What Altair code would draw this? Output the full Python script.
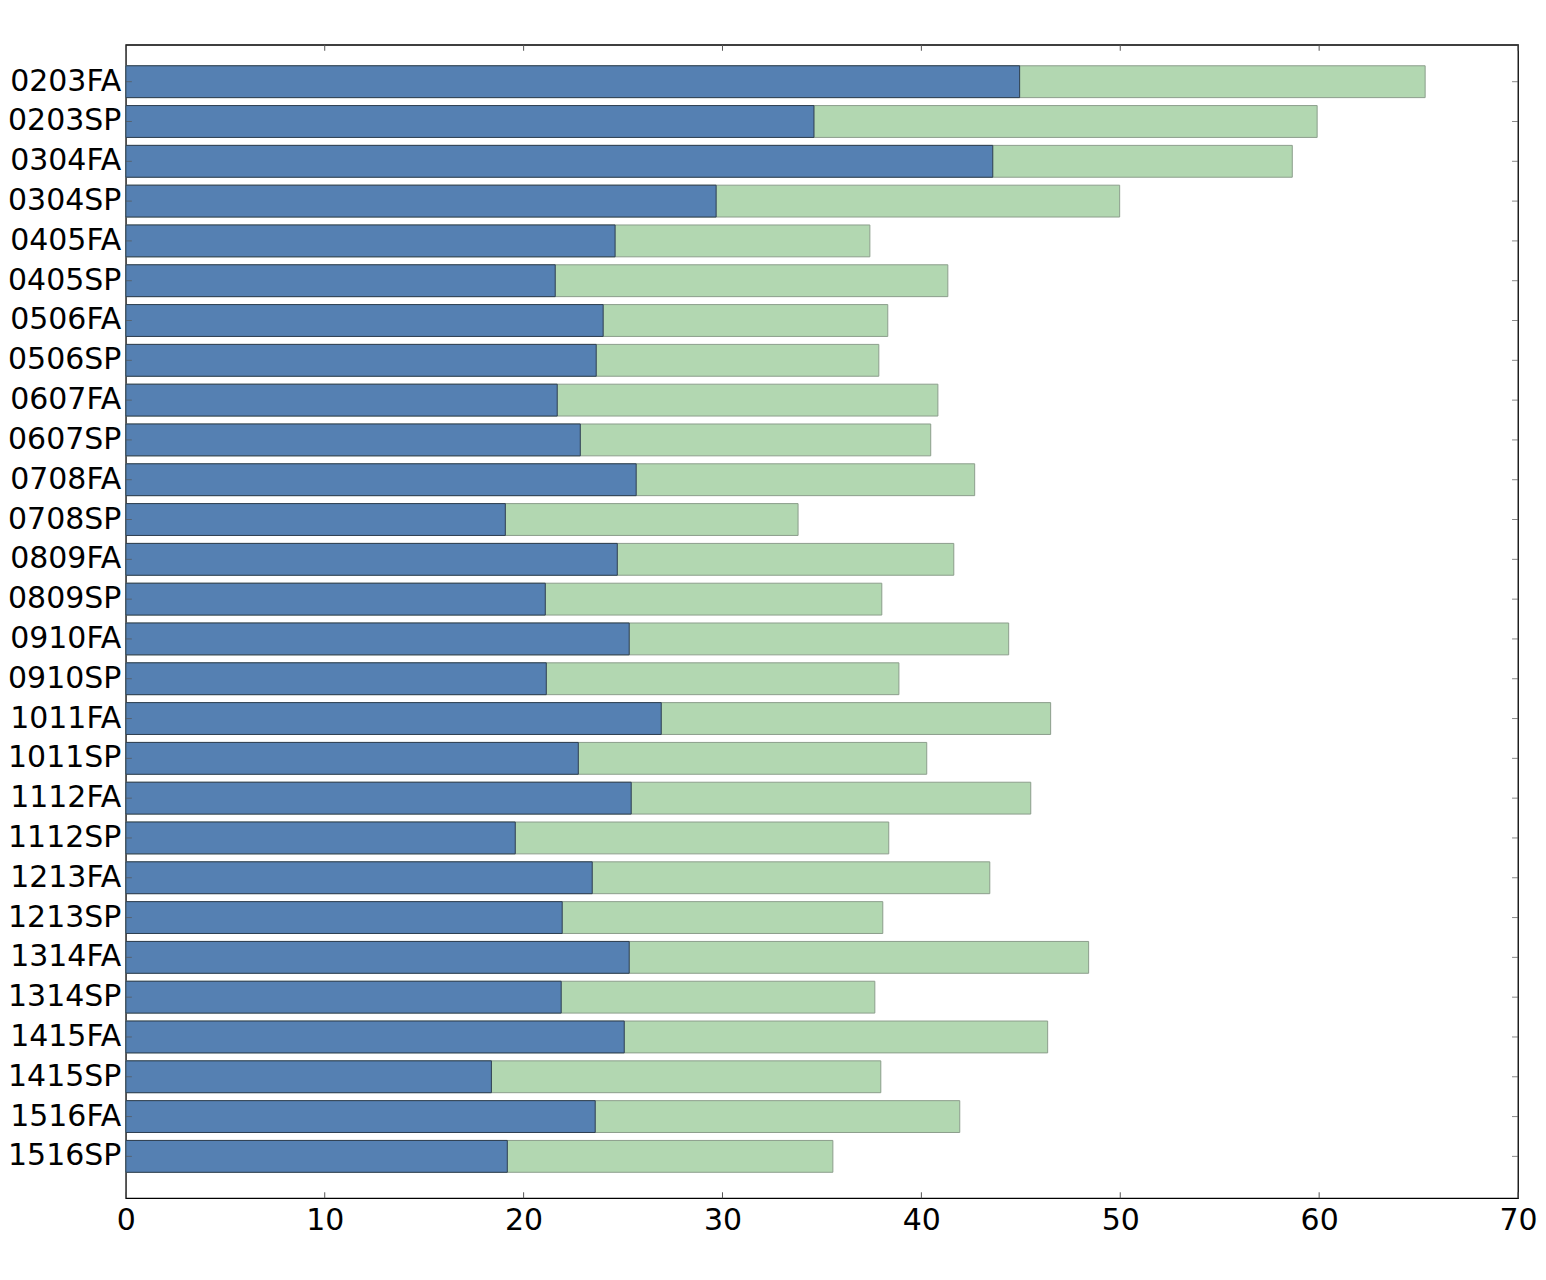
import altair as alt
import pandas as pd

categories = ["0203FA", "0203SP", "0304FA", "0304SP", "0405FA", "0405SP", "0506FA",
              "0506SP", "0607FA", "0607SP", "0708FA", "0708SP", "0809FA", "0809SP",
              "0910FA", "0910SP", "1011FA", "1011SP", "1112FA", "1112SP", "1213FA",
              "1213SP", "1314FA", "1314SP", "1415FA", "1415SP", "1516FA", "1516SP"]
blue_values = [44.94, 34.6, 43.59, 29.68, 24.6, 21.59, 24.0, 23.65, 21.69, 22.85,
               25.66, 19.08, 24.71, 21.09, 25.31, 21.14, 26.92, 22.75, 25.41, 19.58,
               23.45, 21.94, 25.31, 21.89, 25.06, 18.38, 23.6, 19.18]
green_values = [65.33, 59.9, 58.65, 49.97, 37.41, 41.33, 38.31, 37.86, 40.83, 40.47,
                42.68, 33.80, 41.63, 38.01, 44.39, 38.87, 46.5, 40.27, 45.5, 38.36,
                43.44, 38.06, 48.41, 37.66, 46.35, 37.96, 41.93, 35.55]
x_ticks = [0, 10, 20, 30, 40, 50, 60, 70]

df = pd.DataFrame({"cat": categories, "blue": blue_values, "green": green_values})
tick_df = pd.DataFrame({"t": x_ticks})

W, H = 1394, 1155
FONT = "DejaVu Sans"
FS = 30

yscale = alt.Scale(domain=categories, paddingInner=0.2, paddingOuter=0.59, align=0.447)
xscale = alt.Scale(domain=[0, 70], nice=False, zero=True)

base = alt.Chart(df)

green = base.mark_bar(color="#b2d7b1", stroke="#8c9e8c", strokeWidth=1).encode(
    x=alt.X("green:Q", scale=xscale,
            axis=alt.Axis(values=x_ticks, tickSize=0, labelPadding=7, grid=False,
                          domain=False, title=None, labelFontSize=FS, labelFont=FONT,
                          labelColor="black", format="d", labelFlush=False,
                          labelAlign="center")),
    y=alt.Y("cat:N", scale=yscale, sort=categories,
            axis=alt.Axis(tickSize=0, labelPadding=5, grid=False, domain=False,
                          title=None, labelFontSize=FS, labelFont=FONT,
                          labelColor="black")),
)
blue = base.mark_bar(color="#5580b2", stroke="#2e3e50", strokeWidth=1).encode(
    x=alt.X("blue:Q", scale=xscale),
    y=alt.Y("cat:N", scale=yscale, sort=categories),
)

tcol = "#555555"
ticks_bottom = alt.Chart(tick_df).mark_rule(color=tcol, strokeWidth=1).encode(
    x=alt.X("t:Q", scale=xscale), y=alt.value(H), y2=alt.value(H - 6))
ticks_top = alt.Chart(tick_df).mark_rule(color=tcol, strokeWidth=1).encode(
    x=alt.X("t:Q", scale=xscale), y=alt.value(0), y2=alt.value(6))
ticks_left = base.mark_tick(orient="horizontal", size=6, thickness=1, color=tcol).encode(
    y=alt.Y("cat:N", scale=yscale, sort=categories), x=alt.value(3))
ticks_right = base.mark_tick(orient="horizontal", size=6, thickness=1, color=tcol).encode(
    y=alt.Y("cat:N", scale=yscale, sort=categories), x=alt.value(W - 3))

chart = alt.layer(green, blue, ticks_bottom, ticks_top, ticks_left, ticks_right).properties(
    width=W, height=H,
    autosize=alt.AutoSizeParams(type="none"),
    padding={"left": 118, "top": 36, "right": 20, "bottom": 70},
    background="white",
).configure_view(stroke="black", strokeWidth=1.3)

chart.save("out.html", embed_options={"renderer": "svg", "actions": False})
